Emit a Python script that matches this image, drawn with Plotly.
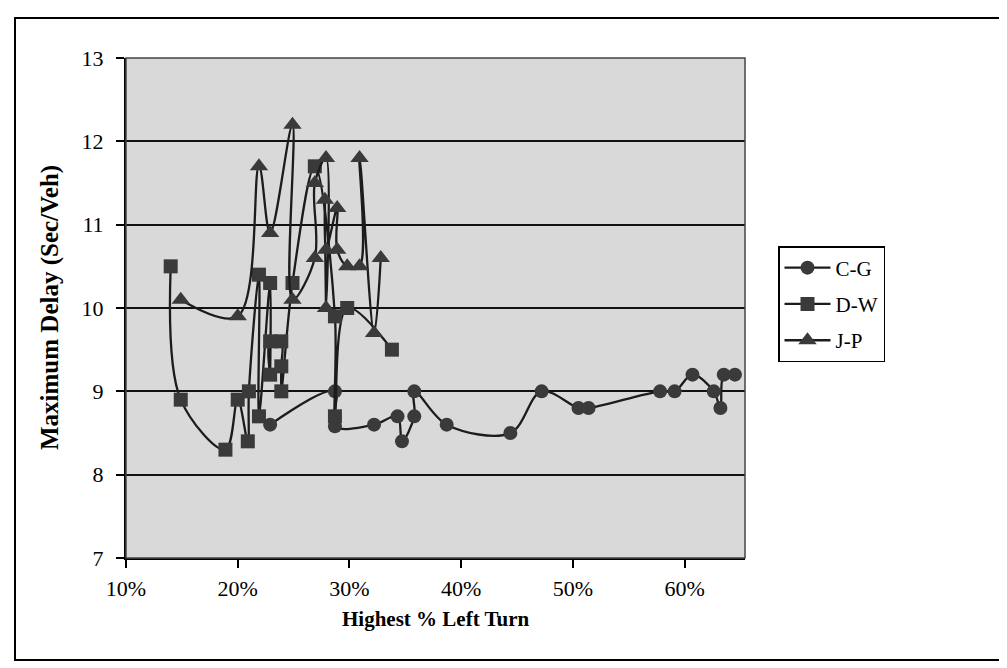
import plotly.graph_objects as go

# ---- data (x = highest % left turn as fraction, y = max delay sec/veh) ----
cg_x = [0.229, 0.287, 0.287, 0.322, 0.343, 0.347, 0.358, 0.358, 0.387, 0.444,
        0.472, 0.505, 0.514, 0.578, 0.591, 0.607, 0.626, 0.632, 0.635, 0.645]
cg_y = [8.6, 9.0, 8.58, 8.6, 8.7, 8.4, 8.7, 9.0, 8.6, 8.5,
        9.0, 8.8, 8.8, 9.0, 9.0, 9.2, 9.0, 8.8, 9.2, 9.2]

dw_x = [0.140, 0.149, 0.189, 0.200, 0.209, 0.210, 0.219, 0.219, 0.229, 0.229,
        0.229, 0.239, 0.239, 0.239, 0.249, 0.269, 0.287, 0.287, 0.298, 0.338]
dw_y = [10.5, 8.9, 8.3, 8.9, 8.4, 9.0, 10.4, 8.7, 10.3, 9.2,
        9.6, 9.6, 9.3, 9.0, 10.3, 11.7, 9.9, 8.7, 10.0, 9.5]

jp_x = [0.149, 0.200, 0.219, 0.229, 0.249, 0.249, 0.269, 0.269, 0.279, 0.279,
        0.278, 0.279, 0.289, 0.289, 0.298, 0.309, 0.309, 0.322, 0.328]
jp_y = [10.1, 9.9, 11.7, 10.9, 12.2, 10.1, 10.6, 11.5, 11.8, 10.0,
        11.3, 10.7, 11.2, 10.7, 10.5, 10.5, 11.8, 9.7, 10.6]

series_names = ["C-G", "D-W", "J-P"]
x_ticks = [0.1, 0.2, 0.3, 0.4, 0.5, 0.6]
y_ticks = [7, 8, 9, 10, 11, 12, 13]

FONT = "Liberation Serif"
LINE_C = "#1c1c1c"
MARK_C = "#3a3a3a"

fig = go.Figure()
for name, xs, ys, sym, size in [
    (series_names[0], cg_x, cg_y, "circle", 14),
    (series_names[1], dw_x, dw_y, "square", 14),
    (series_names[2], jp_x, jp_y, "triangle-up", 16),
]:
    fig.add_trace(go.Scatter(
        x=xs, y=ys, name=name, legendgroup=name, mode="lines+markers",
        line=dict(color=LINE_C, width=2.3, shape="spline", smoothing=1.0),
        marker=dict(symbol=sym, size=size, color=MARK_C, line=dict(width=0)),
    ))

W, H = 1007, 668
L, R, T, B = 118, 1007 - 737, 50, 118
pw, ph = W - L - R, H - T - B

def px(xp):
    return (xp - L) / pw

def py(yp):
    return (H - B - yp) / ph

fig.update_layout(
    width=W, height=H, autosize=False,
    margin=dict(l=L, r=R, t=T, b=B, pad=0),
    paper_bgcolor="white", plot_bgcolor="#d9d9d9",
    font=dict(family=FONT, size=21, color="black"),
    showlegend=True,
    legend=dict(
        x=px(770), y=py(238), xanchor="left", yanchor="top",
        bordercolor="black", borderwidth=1.5, bgcolor="white",
        font=dict(family=FONT, size=21, color="black"),
        itemwidth=46, tracegroupgap=6,
    ),
    xaxis=dict(
        range=[0.10, 0.654], tickvals=x_ticks, tickformat=".0%",
        showgrid=False, zeroline=False,
        showline=True, linecolor="black", linewidth=2,
        ticks="outside", ticklen=8, tickwidth=2, tickcolor="black",
        tickfont=dict(family=FONT, size=22, color="black"),
        ticklabelstandoff=2,
    ),
    yaxis=dict(
        range=[7, 13], tickvals=y_ticks,
        showgrid=True, gridcolor="#111111", gridwidth=2,
        zeroline=False,
        showline=True, linecolor="black", linewidth=2,
        ticks="outside", ticklen=8, tickwidth=2, tickcolor="black",
        tickfont=dict(family=FONT, size=22, color="black"),
        ticklabelstandoff=8,
    ),
    annotations=[
        dict(text="<b>Highest % Left Turn</b>", xref="paper", yref="paper",
             x=0.5, y=py(611), xanchor="center", yanchor="middle",
             showarrow=False, font=dict(family=FONT, size=21, color="black")),
        dict(text="<b>Maximum Delay (Sec/Veh)</b>", xref="paper", yref="paper",
             x=px(42), y=0.5, xanchor="center", yanchor="middle", textangle=-90,
             showarrow=False, font=dict(family=FONT, size=25, color="black")),
    ],
    shapes=[
        dict(type="rect", xref="paper", yref="paper", x0=0, x1=1, y0=0, y1=1,
             line=dict(color="#444444", width=1.5), layer="above"),
        dict(type="rect", xref="paper", yref="paper",
             x0=px(7), x1=px(1000), y0=py(652), y1=py(10),
             line=dict(color="black", width=2)),
    ],
)

fig.write_html("out.html")
